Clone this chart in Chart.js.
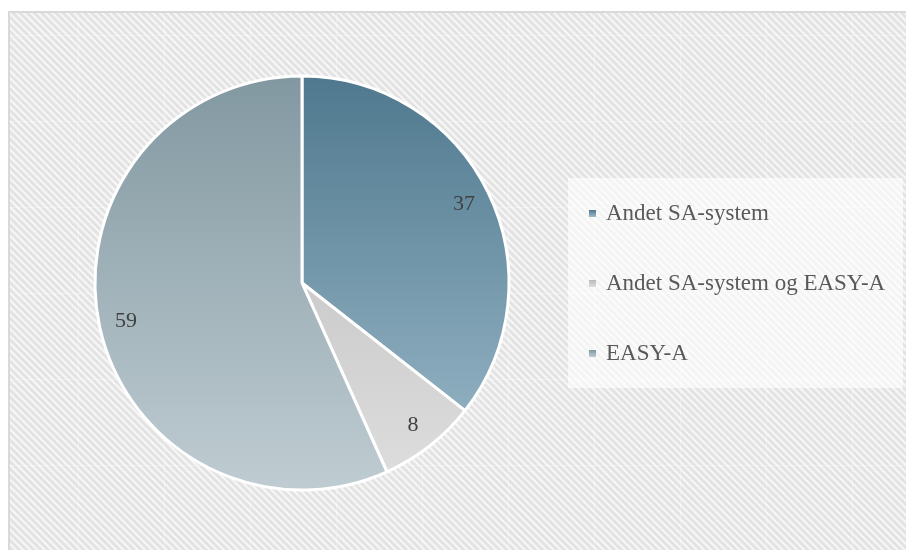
<!DOCTYPE html>
<html lang="da">
<head>
<meta charset="utf-8">
<title>SA-system</title>
<script src="https://cdn.jsdelivr.net/npm/chart.js@4/dist/chart.umd.min.js"></script>
<style>
  html, body { margin: 0; padding: 0; background: #fff; }
  #wrap { position: relative; width: 906px; height: 550px; overflow: hidden; }
  #pieChart { position: absolute; left: 0; top: 0; }
  #legend {
    position: absolute; left: 568px; top: 178px; width: 335px; height: 210px;
    background: rgba(255, 255, 255, 0.62);
  }
  .item {
    position: absolute; left: 21px; height: 30px; line-height: 30px;
    font-family: "Liberation Serif", "DejaVu Serif", serif; font-size: 23px; color: #595959;
    white-space: nowrap;
  }
  .item i {
    display: inline-block; width: 7px; height: 7px; margin-right: 10px;
    vertical-align: 3px;
  }
</style>
</head>
<body>
<div id="wrap">
  <canvas id="pieChart" width="906" height="550"></canvas>
  <div id="legend"></div>
</div>
<script>
const labels = ['Andet SA-system', 'Andet SA-system og EASY-A', 'EASY-A'];
const values = [37, 8, 59];

// slice gradients, top of pie -> bottom of pie
const topColors = ['#4f788e', '#b9b9b9', '#8298a1'];
const bottomColors = ['#9dbbcb', '#dedede', '#bfccd2'];

const PIE_RADIUS = 207;
const LABEL_POS = 0.87;

function stripeTile() {
  const size = 86;
  const step = size / 12;
  const tile = document.createElement('canvas');
  tile.width = size;
  tile.height = size;
  const c = tile.getContext('2d');
  c.fillStyle = '#f7f7f7';
  c.fillRect(0, 0, size, size);
  c.strokeStyle = '#e3e3e3';
  c.lineWidth = step * 0.42;
  for (let k = -24; k <= 24; k++) {
    c.beginPath();
    c.moveTo(k * step - size, -size);
    c.lineTo(k * step + 2 * size, 2 * size);
    c.stroke();
  }
  // faint tile seams
  c.fillStyle = 'rgba(255,255,255,0.3)';
  c.fillRect(0, 0, size, 1);
  c.fillRect(0, 0, 1, size);
  return tile;
}

const backgroundPlugin = {
  id: 'hatchBackground',
  beforeDraw(chart) {
    const ctx = chart.ctx;
    const w = chart.width;
    const h = chart.height;
    ctx.save();
    ctx.fillStyle = '#ffffff';
    ctx.fillRect(0, 0, w, h);
    const pattern = ctx.createPattern(stripeTile(), 'repeat');
    pattern.setTransform(new DOMMatrix().translate(78, 35));
    ctx.fillStyle = pattern;
    ctx.fillRect(9, 12, w - 9, h - 12);
    ctx.fillStyle = '#d9d9d9';
    ctx.fillRect(8, 11, w - 8, 2);
    ctx.fillRect(8, 11, 2, h - 11);
    ctx.restore();
  },
};

const sliceLabelPlugin = {
  id: 'sliceLabels',
  afterDatasetsDraw(chart) {
    const ctx = chart.ctx;
    const meta = chart.getDatasetMeta(0);
    ctx.save();
    ctx.font = '22px "Liberation Serif", "DejaVu Serif", serif';
    ctx.fillStyle = '#404040';
    ctx.textAlign = 'center';
    ctx.textBaseline = 'middle';
    meta.data.forEach((arc, i) => {
      const { x, y, startAngle, endAngle, outerRadius } = arc.getProps(['x', 'y', 'startAngle', 'endAngle', 'outerRadius'], true);
      const mid = (startAngle + endAngle) / 2;
      const r = outerRadius * LABEL_POS;
      ctx.fillText(String(chart.data.datasets[0].data[i]), x + Math.cos(mid) * r, y + Math.sin(mid) * r);
    });
    ctx.restore();
  },
};

function sliceColor(context) {
  const chart = context.chart;
  const area = chart.chartArea;
  const i = context.dataIndex;
  if (!area) return topColors[i];
  const cy = (area.top + area.bottom) / 2;
  const g = chart.ctx.createLinearGradient(0, cy - PIE_RADIUS, 0, cy + PIE_RADIUS);
  g.addColorStop(0, topColors[i]);
  g.addColorStop(1, bottomColors[i]);
  return g;
}

function buildLegend() {
  const box = document.getElementById('legend');
  labels.forEach((name, i) => {
    const row = document.createElement('div');
    row.className = 'item';
    row.style.top = (20 + i * 70) + 'px';
    const mark = document.createElement('i');
    mark.style.background = `linear-gradient(${topColors[i]}, ${bottomColors[i]})`;
    row.appendChild(mark);
    row.appendChild(document.createTextNode(name));
    box.appendChild(row);
  });
}

document.addEventListener('DOMContentLoaded', () => {
  const canvas = document.getElementById('pieChart');
  new Chart(canvas, {
    type: 'pie',
    data: {
      labels,
      datasets: [{
        data: values,
        backgroundColor: sliceColor,
        borderColor: '#ffffff',
        borderWidth: 3,
        hoverOffset: 0,
      }],
    },
    options: {
      responsive: false,
      animation: false,
      radius: PIE_RADIUS,
      layout: { padding: { left: 0, right: 302, top: 16, bottom: 0 } },
      plugins: {
        legend: { display: false },
        tooltip: { enabled: false },
      },
    },
    plugins: [backgroundPlugin, sliceLabelPlugin],
  });
  buildLegend();
});
</script>
</body>
</html>
